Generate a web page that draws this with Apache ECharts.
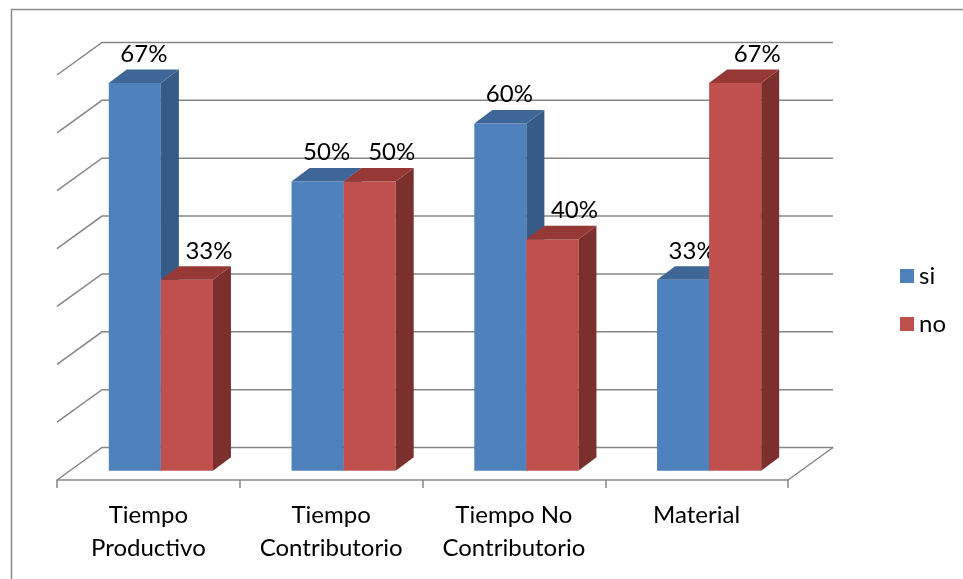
<!DOCTYPE html>
<html>
<head>
<meta charset="utf-8">
<script src="https://cdn.jsdelivr.net/npm/echarts@6/dist/echarts.min.js"></script>
<style>
  html, body { margin: 0; padding: 0; background: #fff; }
  #chart { width: 963px; height: 579px; }
</style>
</head>
<body>
<div id="chart"></div>
<script>
const categories = ['Tiempo\nProductivo', 'Tiempo\nContributorio', 'Tiempo No\nContributorio', 'Material'];
const siValues = [67, 50, 60, 33];
const noValues = [33, 50, 40, 67];
const wallTicks = [0, 10, 20, 30, 40, 50, 60, 70];

// fake 3D: depth offsets in pixels
const WALL = [45, -32.5];   // back wall relative to front edge of floor
const BAR_FRONT = [12.5, -9.3];
const BAR_DEPTH = [18, -13.5];
const LINE = '#868686';
const FONT = 'Lato, "Open Sans", sans-serif';

const chart = echarts.init(document.getElementById('chart'));

function barSeries(name, values, idx, front, top, side, labelShift) {
  return {
    name: name,
    type: 'custom',
    z: 3,
    itemStyle: { color: front },
    data: values.map((v, i) => [i, v]),
    renderItem: (params, api) => {
      const cat = api.value(0);
      const v = api.value(1);
      const base = api.coord([cat, 0]);
      const topPt = api.coord([cat, v]);
      const band = api.size([1, 0])[0];
      const w = band * 0.285;
      const x0 = base[0] - w + idx * w + BAR_FRONT[0];
      const y0 = base[1] + BAR_FRONT[1];
      const yt = topPt[1] + BAR_FRONT[1];
      const dx = BAR_DEPTH[0], dy = BAR_DEPTH[1];
      return {
        type: 'group',
        children: [
          { type: 'rect', shape: { x: x0, y: yt, width: w, height: y0 - yt }, style: { fill: front } },
          { type: 'polygon', shape: { points: [[x0 + w, yt], [x0 + w + dx, yt + dy], [x0 + w + dx, y0 + dy], [x0 + w, y0]] }, style: { fill: side } },
          { type: 'polygon', shape: { points: [[x0, yt], [x0 + dx, yt + dy], [x0 + w + dx, yt + dy], [x0 + w, yt]] }, style: { fill: top } },
          {
            type: 'text',
            x: x0 + w / 2 + labelShift,
            y: yt - 17,
            style: {
              text: v + '%', fill: '#000', font: '24px ' + FONT,
              align: 'center', verticalAlign: 'bottom'
            }
          }
        ]
      };
    }
  };
}

const option = {
  animation: false,
  backgroundColor: '#fff',
  grid: { left: 57, top: 75, width: 731, height: 405 },
  legend: {
    data: ['si', 'no'],
    orient: 'vertical',
    left: 895, top: 257,
    icon: 'rect',
    itemWidth: 14, itemHeight: 14, itemGap: 20,
    textStyle: { fontSize: 24, lineHeight: 28, color: '#000', fontFamily: FONT }
  },
  xAxis: {
    type: 'category',
    data: categories,
    axisLine: { lineStyle: { color: LINE, width: 1.5 } },
    axisTick: { show: true, interval: 0, length: 8, lineStyle: { color: LINE, width: 1.5 } },
    axisLabel: {
      interval: 0, hideOverlap: false,
      color: '#000', fontSize: 24, lineHeight: 33, margin: 19, fontFamily: FONT
    }
  },
  yAxis: {
    type: 'value', min: 0, max: 70, interval: 10,
    axisLine: { show: false }, axisTick: { show: false },
    axisLabel: { show: false }, splitLine: { show: false }
  },
  graphic: [{
    type: 'rect', left: 9, top: 7,
    shape: { width: 1000, height: 1000 },
    style: { fill: 'none', stroke: '#8a8a8a', lineWidth: 1.5 }
  }],
  series: [
    {
      type: 'custom',
      z: 1,
      silent: true,
      data: wallTicks.map(v => [0, v]),
      renderItem: (params, api) => {
        const cs = params.coordSys;
        const y = api.coord([0, api.value(1)])[1];
        const xL = cs.x, xR = cs.x + cs.width;
        const children = [{
          type: 'polyline',
          shape: { points: [[xL, y], [xL + WALL[0], y + WALL[1]], [xR + WALL[0], y + WALL[1]]] },
          style: { stroke: LINE, lineWidth: 1.5, fill: null }
        }];
        if (api.value(1) === 0) {
          children.push({
            type: 'line',
            shape: { x1: xR, y1: y, x2: xR + WALL[0], y2: y + WALL[1] },
            style: { stroke: LINE, lineWidth: 1.5 }
          });
        }
        return { type: 'group', children: children };
      }
    },
    barSeries('si', siValues, 0, '#4f81bd', '#3e6696', '#365b87', 9),
    barSeries('no', noValues, 1, '#c0504d', '#953836', '#7c302e', 22)
  ]
};

chart.setOption(option);
</script>
</body>
</html>
